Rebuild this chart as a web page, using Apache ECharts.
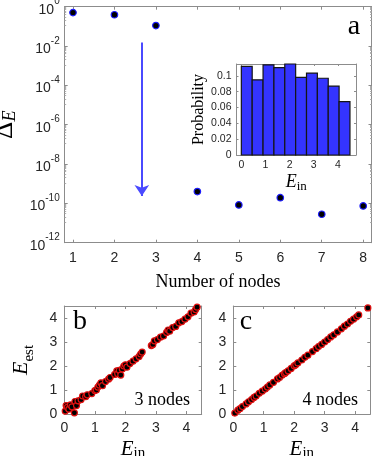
<!DOCTYPE html>
<html>
<head>
<meta charset="utf-8">
<script src="https://cdn.jsdelivr.net/npm/echarts@6/dist/echarts.min.js"></script>
<style>
html, body { margin: 0; padding: 0; background: #fff; }
#chart { width: 373px; height: 456px; }
</style>
</head>
<body>
<div id="chart"></div>
<script>
// panel a: energy error vs number of nodes
const nodes = [1, 2, 3, 4, 5, 6, 7, 8];
const deltaE = [0.5, 0.39, 0.11, 4e-10, 8.3e-11, 1.95e-10, 2.8e-11, 7.4e-11];
const arrowX = 2.66;
const arrowY = [0.015, 2.4e-10];

// inset: histogram of E_in
const binEdges = [0, 0.45, 0.9, 1.35, 1.8, 2.25, 2.7, 3.15, 3.6, 4.05, 4.5];
const binProb = [0.112, 0.095, 0.114, 0.1105, 0.115, 0.098, 0.1035, 0.097, 0.087, 0.0675];
const histXTicks = [0, 1, 2, 3, 4];
const histYTicks = [0, 0.02, 0.04, 0.06, 0.08, 0.1];

// panels b, c: estimated vs input energy
const eTicks = [0, 1, 2, 3, 4];
const bIn = [0.03, 0.06, 0.1, 0.15, 0.2, 0.25, 0.33, 0.35, 0.4, 0.45, 0.55, 0.6, 0.7, 0.75, 0.9, 1.0, 1.05,
  1.1, 1.15, 1.2, 1.25, 1.35, 1.45, 1.5, 1.65, 1.72, 1.75, 1.8, 1.85, 1.9, 1.95, 2.0, 2.05, 2.15, 2.25,
  2.35, 2.45, 2.5, 2.55, 2.85, 2.9, 2.95, 3.05, 3.15, 3.25, 3.35, 3.4, 3.45, 3.55, 3.65, 3.75, 3.85,
  3.95, 4.05, 4.15, 4.25, 4.3, 4.35];
const bEst = [0.12, 0.35, 0.28, 0.2, 0.38, 0.3, 0.05, 0.52, 0.35, 0.55, 0.6, 0.75, 0.72, 0.8, 0.85, 0.98, 1.0,
  1.12, 1.2, 1.3, 1.18, 1.35, 1.45, 1.52, 1.65, 1.8, 1.68, 1.82, 1.62, 1.88, 2.0, 2.05, 1.95, 2.1, 2.2,
  2.3, 2.4, 2.5, 2.58, 2.85, 2.9, 3.05, 3.1, 3.2, 3.25, 3.4, 3.5, 3.45, 3.6, 3.65, 3.8, 3.85,
  3.95, 4.05, 4.2, 4.25, 4.35, 4.45];
const cIn = [0.05, 0.15, 0.22, 0.3, 0.42, 0.5, 0.6, 0.68, 0.75, 0.85, 0.95, 1.05, 1.12, 1.2, 1.32, 1.45,
  1.52, 1.6, 1.68, 1.72, 1.8, 1.9, 2.0, 2.05, 2.12, 2.25, 2.35, 2.45, 2.6, 2.72, 2.8, 2.9, 3.0, 3.1,
  3.2, 3.3, 3.42, 3.55, 3.65, 3.75, 3.85, 3.95, 4.05, 4.12, 4.42];
const cEst = [0.04, 0.16, 0.22, 0.31, 0.42, 0.51, 0.6, 0.69, 0.75, 0.86, 0.95, 1.04, 1.12, 1.21, 1.32, 1.46,
  1.52, 1.61, 1.68, 1.73, 1.8, 1.9, 2.01, 2.05, 2.13, 2.25, 2.36, 2.45, 2.6, 2.72, 2.81, 2.9, 3.0, 3.1,
  3.21, 3.3, 3.42, 3.55, 3.66, 3.75, 3.86, 3.95, 4.05, 4.13, 4.42];

const SERIF = '"Liberation Serif", "Times New Roman", serif';
const SANS = '"Liberation Sans", Arial, sans-serif';
const frameColor = '#8c8c8c';
const textColor = '#262626';

// one side of a MATLAB-like box: line + inward ticks, optional labels
const boxAxis = (o) => {
  const ax = {
    type: o.type || 'value',
    gridIndex: o.grid,
    position: o.position,
    min: o.min,
    max: o.max,
    axisLine: { show: true, onZero: false, lineStyle: { color: frameColor, width: 1 } },
    axisTick: { show: true, inside: true, length: o.tickLen || 3, lineStyle: { color: frameColor } },
    axisLabel: { show: false },
    splitLine: { show: false }
  };
  if (o.ticks) {
    ax.axisTick.customValues = o.ticks;
  }
  if (o.label) {
    ax.axisLabel = Object.assign({ show: true, color: textColor, fontFamily: SANS }, o.label);
    if (o.ticks) ax.axisLabel.customValues = o.ticks;
  }
  if (o.name) {
    Object.assign(ax, o.name);
  }
  return ax;
};

// italic E with an upright subscript
const subRich = (bs, bl, ss, sl) => ({
  rich: {
    e: { fontFamily: SERIF, fontStyle: 'italic', fontSize: bs, lineHeight: bl, verticalAlign: 'top', color: '#000' },
    s: { fontFamily: SERIF, fontSize: ss, lineHeight: sl, verticalAlign: 'bottom', color: '#000' }
  }
});

const logLabel = (v) => '{b|10}{s|' + Math.round(Math.log10(v)) + '}';

// fixed plot boxes, no auto shrinking for labels
const grids = [
  { left: 64.7, top: 6.7, width: 306.8, height: 236, outerBoundsMode: 'none' },
  { left: 236.5, top: 64, width: 119.5, height: 91, outerBoundsMode: 'none' },
  { left: 64.3, top: 306, width: 137.4, height: 108, outerBoundsMode: 'none' },
  { left: 233.3, top: 306, width: 137, height: 108, outerBoundsMode: 'none' }
];

const xAxes = [
  boxAxis({ grid: 0, min: 0.8, max: 8.2, ticks: nodes, position: 'bottom',
    label: { fontSize: 14, margin: 8 },
    name: { name: 'Number of nodes', nameLocation: 'middle', nameGap: 31,
      nameTextStyle: { fontFamily: SERIF, fontSize: 18, color: '#000' } } }),
  boxAxis({ grid: 0, min: 0.8, max: 8.2, ticks: nodes, position: 'top' }),
  boxAxis({ grid: 1, min: -0.2, max: 4.75, ticks: histXTicks, position: 'bottom', tickLen: 2,
    label: { fontSize: 10.5, margin: 5 },
    name: { name: '{e|E}{s|in}', nameLocation: 'middle', nameGap: 18, nameTextStyle: subRich(18, 20, 13, 10) } }),
  boxAxis({ grid: 1, min: -0.2, max: 4.75, ticks: histXTicks, position: 'top', tickLen: 2 }),
  boxAxis({ grid: 2, min: 0, max: 4.5, ticks: eTicks, position: 'bottom',
    label: { fontSize: 14, margin: 7 },
    name: { name: '{e|E}{s|in}', nameLocation: 'middle', nameGap: 25, nameTextStyle: subRich(21, 22, 15, 12) } }),
  boxAxis({ grid: 2, min: 0, max: 4.5, ticks: eTicks, position: 'top' }),
  boxAxis({ grid: 3, min: 0, max: 4.5, ticks: eTicks, position: 'bottom',
    label: { fontSize: 14, margin: 7 },
    name: { name: '{e|E}{s|in}', nameLocation: 'middle', nameGap: 25, nameTextStyle: subRich(21, 22, 15, 12) } }),
  boxAxis({ grid: 3, min: 0, max: 4.5, ticks: eTicks, position: 'top' })
];

const yLog = (pos, withLabel) => {
  const ax = boxAxis({ grid: 0, type: 'log', min: 1e-12, max: 1, position: pos });
  ax.logBase = 10;
  ax.interval = 2;
  ax.minorTick = { show: true, splitNumber: 10, length: 1.5, lineStyle: { color: '#b0b0b0' } };
  if (withLabel) {
    ax.axisLabel = {
      show: true, margin: 5, formatter: logLabel,
      rich: {
        b: { fontFamily: SANS, fontSize: 14, lineHeight: 20, verticalAlign: 'bottom', color: textColor },
        s: { fontFamily: SANS, fontSize: 10, lineHeight: 14, verticalAlign: 'top', color: textColor }
      }
    };
    ax.name = '{d|Δ}{e|E}';
    ax.nameLocation = 'middle';
    ax.nameGap = 38;
    ax.nameRotate = 90;
    ax.nameTextStyle = { rich: {
      d: { fontFamily: SERIF, fontSize: 27, lineHeight: 27, verticalAlign: 'top', color: '#000' },
      e: { fontFamily: SERIF, fontStyle: 'italic', fontSize: 18, lineHeight: 14, verticalAlign: 'bottom', color: '#000' }
    } };
  }
  return ax;
};

const yAxes = [
  yLog('left', true),
  yLog('right', false),
  boxAxis({ grid: 1, min: 0, max: 0.115, ticks: histYTicks, position: 'left', tickLen: 2,
    label: { fontSize: 10.5, margin: 5 },
    name: { name: 'Probability', nameLocation: 'middle', nameGap: 28, nameRotate: 90,
      nameTextStyle: { fontFamily: SERIF, fontSize: 16, color: '#000' } } }),
  boxAxis({ grid: 1, min: 0, max: 0.115, ticks: histYTicks, position: 'right', tickLen: 2 }),
  boxAxis({ grid: 2, min: 0, max: 4.5, ticks: eTicks, position: 'left',
    label: { fontSize: 14, margin: 7 },
    name: { name: '{e|E}{s|est}', nameLocation: 'middle', nameGap: 28, nameRotate: 90, nameTextStyle: subRich(22, 26, 15, 12) } }),
  boxAxis({ grid: 2, min: 0, max: 4.5, ticks: eTicks, position: 'right' }),
  boxAxis({ grid: 3, min: 0, max: 4.5, ticks: eTicks, position: 'left',
    label: { fontSize: 14, margin: 7 } }),
  boxAxis({ grid: 3, min: 0, max: 4.5, ticks: eTicks, position: 'right' })
];

const pairs = (xs, ys) => xs.map((x, i) => [x, ys[i]]);

const chart = echarts.init(document.getElementById('chart'));

chart.setOption({
  animation: false,
  grid: grids,
  xAxis: xAxes,
  yAxis: yAxes,
  series: [
    {
      type: 'scatter',
      xAxisIndex: 0,
      yAxisIndex: 0,
      symbolSize: 6.5,
      itemStyle: { color: '#000', borderColor: '#1c1cff', borderWidth: 1.2, opacity: 1 },
      data: pairs(nodes, deltaE),
      markLine: {
        silent: true,
        symbol: ['none', 'arrow'],
        symbolSize: 11,
        label: { show: false },
        lineStyle: { color: '#4a4aff', width: 2, type: 'solid' },
        data: [[{ coord: [arrowX, arrowY[0]] }, { coord: [arrowX, arrowY[1]] }]]
      }
    },
    {
      type: 'custom',
      xAxisIndex: 2,
      yAxisIndex: 2,
      data: binProb.map((p, i) => [binEdges[i], binEdges[i + 1], p]),
      encode: { x: [0, 1], y: 2 },
      renderItem: (params, api) => {
        const top = api.coord([api.value(0), api.value(2)]);
        const base = api.coord([api.value(1), 0]);
        return {
          type: 'rect',
          shape: { x: top[0], y: top[1], width: base[0] - top[0], height: base[1] - top[1] },
          style: { fill: '#3434ff', stroke: '#151515', lineWidth: 1.2 }
        };
      }
    },
    {
      type: 'scatter',
      xAxisIndex: 4,
      yAxisIndex: 4,
      symbolSize: 6,
      itemStyle: { color: '#000', borderColor: '#e01010', borderWidth: 1.2, opacity: 1 },
      data: pairs(bIn, bEst)
    },
    {
      type: 'scatter',
      xAxisIndex: 6,
      yAxisIndex: 6,
      symbolSize: 6,
      itemStyle: { color: '#000', borderColor: '#e01010', borderWidth: 1.2, opacity: 1 },
      data: pairs(cIn, cEst)
    }
  ],
  graphic: [
    { type: 'text', x: 354, y: 27, style: { text: 'a', fontFamily: SERIF, fontSize: 28, fill: '#000', align: 'center', verticalAlign: 'middle' } },
    { type: 'text', x: 80, y: 322, style: { text: 'b', fontFamily: SERIF, fontSize: 28, fill: '#000', align: 'center', verticalAlign: 'middle' } },
    { type: 'text', x: 246, y: 322, style: { text: 'c', fontFamily: SERIF, fontSize: 28, fill: '#000', align: 'center', verticalAlign: 'middle' } },
    { type: 'text', x: 190, y: 400.5, style: { text: '3 nodes', fontFamily: SERIF, fontSize: 18, fill: '#000', align: 'right', verticalAlign: 'middle' } },
    { type: 'text', x: 358, y: 400.5, style: { text: '4 nodes', fontFamily: SERIF, fontSize: 18, fill: '#000', align: 'right', verticalAlign: 'middle' } }
  ]
});
</script>
</body>
</html>
